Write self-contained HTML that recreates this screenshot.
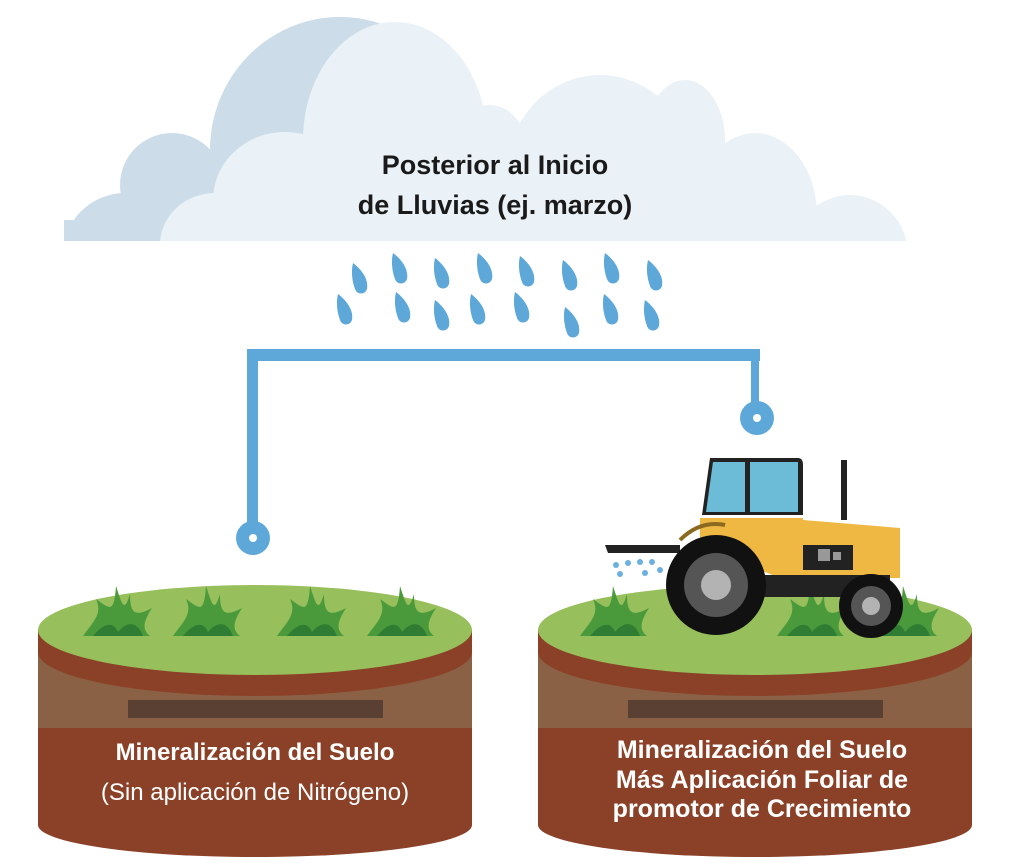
<!DOCTYPE html>
<html><head><meta charset="utf-8"><style>
html,body{margin:0;padding:0;background:#fff;}
svg{display:block;font-family:"Liberation Sans","DejaVu Sans",sans-serif;}
</style></head><body>
<svg width="1024" height="867" viewBox="0 0 1024 867" xmlns="http://www.w3.org/2000/svg">
<defs>
<clipPath id="cc"><rect x="0" y="0" width="1024" height="241"/></clipPath>
<path id="d" d="M0,0 C8,6 16,16 14,26 C12,32 4,32 2,26 C-1,18 -2,8 0,0Z"/>
<g id="plat">
<path d="M-217,0 L-217,195 A217,32 0 0 0 217,195 L217,0Z" fill="#8b4128"/>
<path d="M-217,20 L-217,98 L217,98 L217,20Z" fill="#8b6145"/>
<rect x="-127" y="70" width="255" height="18" fill="#5a4032"/>
<path d="M-217,0 L-217,22 A217,44 0 0 0 217,22 L217,0Z" fill="#8b4128"/>
<ellipse cx="0" cy="0" rx="217" ry="45" fill="#97bf5b"/>
</g>
<g id="grass">
<path d="M-35,22 C-25,8 -15,0 -22,-15 C-8,-5 -4,0 -2,-28 C4,-10 6,0 12,-20 C12,-2 16,4 34,-6 C25,8 24,16 32,22Z" fill="#4a9a3c"/>
<path d="M-25,22 C-15,10 -5,6 0,18 C10,6 20,8 25,22Z" fill="#2f7d32"/>
</g>
</defs>
<g clip-path="url(#cc)">
<g fill="#ccdde9">
<ellipse cx="340" cy="150" rx="130" ry="133"/>
<circle cx="172" cy="185" r="52"/>
<circle cx="125" cy="255" r="62"/>
<rect x="64" y="220" width="200" height="30"/>
</g>
<g fill="#eaf2f7">
<ellipse cx="395" cy="140" rx="92" ry="118"/>
<ellipse cx="285" cy="200" rx="72" ry="68"/>
<ellipse cx="215" cy="245" rx="55" ry="52"/>
<ellipse cx="600" cy="170" rx="92" ry="95"/>
<ellipse cx="685" cy="140" rx="40" ry="60"/>
<ellipse cx="490" cy="160" rx="40" ry="55"/>
<ellipse cx="690" cy="215" rx="70" ry="45"/>
<ellipse cx="755" cy="215" rx="62" ry="82"/>
<ellipse cx="850" cy="255" rx="58" ry="60"/>
<rect x="200" y="205" width="650" height="50"/>
</g>
</g>
<text x="495" y="174" font-size="27" font-weight="bold" fill="#1a1a1a" text-anchor="middle">Posterior al Inicio</text>
<text x="495" y="214" font-size="27" font-weight="bold" fill="#1a1a1a" text-anchor="middle">de Lluvias (ej. marzo)</text>
<g fill="#5ea7d9">
<use href="#d" x="353" y="263"/><use href="#d" x="393" y="253"/><use href="#d" x="435" y="258"/><use href="#d" x="478" y="253"/><use href="#d" x="520" y="256"/><use href="#d" x="563" y="260"/><use href="#d" x="605" y="253"/><use href="#d" x="648" y="260"/>
<use href="#d" x="338" y="294"/><use href="#d" x="396" y="292"/><use href="#d" x="435" y="300"/><use href="#d" x="471" y="294"/><use href="#d" x="515" y="292"/><use href="#d" x="565" y="307"/><use href="#d" x="604" y="294"/><use href="#d" x="645" y="300"/>
</g>
<g fill="#5ea7d9">
<rect x="247" y="349" width="513" height="12"/>
<rect x="247" y="349" width="11" height="175"/>
<rect x="751" y="349" width="8" height="60"/>
<circle cx="253" cy="538" r="17"/><circle cx="757" cy="418" r="17"/>
</g>
<circle cx="253" cy="538" r="4" fill="#fff"/><circle cx="757" cy="418" r="4" fill="#fff"/>
<use href="#plat" x="255" y="630"/>
<use href="#plat" x="755" y="630"/>
<use href="#grass" x="118" y="614"/><use href="#grass" x="208" y="614"/><use href="#grass" x="312" y="614"/><use href="#grass" x="402" y="614"/>
<use href="#grass" x="615" y="614"/><use href="#grass" x="812" y="614"/><use href="#grass" x="905" y="614"/>
<text x="255" y="760" font-size="24" font-weight="bold" fill="#fff" text-anchor="middle">Mineralización del Suelo</text>
<text x="255" y="800" font-size="24" fill="#fff" text-anchor="middle">(Sin aplicación de Nitrógeno)</text>
<text x="762" y="758" font-size="25" font-weight="bold" fill="#fff" text-anchor="middle">Mineralización del Suelo</text>
<text x="762" y="788" font-size="25" font-weight="bold" fill="#fff" text-anchor="middle">Más Aplicación Foliar de</text>
<text x="762" y="817" font-size="25" font-weight="bold" fill="#fff" text-anchor="middle">promotor de Crecimiento</text>
<path d="M605,545 L680,545 L680,553 L608,553Z" fill="#222"/>
<g fill="#6ab0e0"><circle cx="616" cy="565" r="3"/><circle cx="628" cy="563" r="3"/><circle cx="640" cy="562" r="3"/><circle cx="652" cy="562" r="3"/><circle cx="620" cy="574" r="3"/><circle cx="645" cy="573" r="3"/><circle cx="660" cy="570" r="3"/></g>
<path d="M710,458 L798,458 Q803,458 803,465 L803,515 L702,515Z" fill="#222"/>
<path d="M713,462 L745,462 L745,512 L706,512Z" fill="#6cbcd7"/>
<path d="M750,462 L798,462 L798,512 L750,512Z" fill="#6cbcd7"/>
<rect x="841" y="460" width="6" height="60" fill="#222"/>
<path d="M700,518 L803,518 L803,520 L900,528 L900,578 L780,578 L760,570 L700,570Z" fill="#efb842"/>
<rect x="803" y="545" width="50" height="25" fill="#222"/>
<rect x="818" y="549" width="12" height="12" fill="#999"/><rect x="833" y="552" width="8" height="8" fill="#999"/>
<path d="M680,540 Q700,520 725,525" stroke="#8a6a20" stroke-width="4" fill="none"/>
<rect x="750" y="575" width="140" height="22" fill="#222"/>
<circle cx="716" cy="585" r="50" fill="#111"/>
<circle cx="716" cy="585" r="32" fill="#555"/>
<circle cx="716" cy="585" r="15" fill="#b3b3b3"/>
<circle cx="871" cy="606" r="32" fill="#111"/>
<circle cx="871" cy="606" r="20" fill="#555"/>
<circle cx="871" cy="606" r="9" fill="#b3b3b3"/>
</svg>
</body></html>
